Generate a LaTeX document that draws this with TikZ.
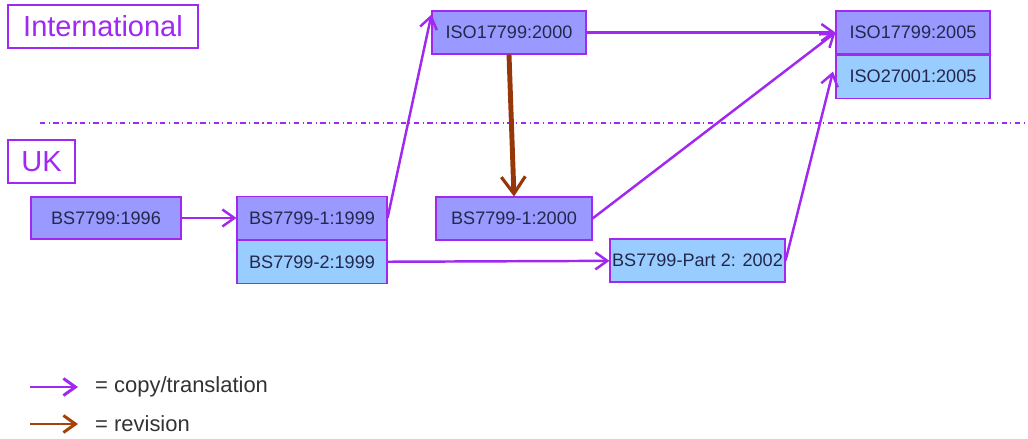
\documentclass[tikz,border=0pt]{standalone}
\usepackage{fontspec}
\setmainfont{Liberation Sans}
\usepackage{tikz}
\usetikzlibrary{arrows.meta,positioning,calc}
\definecolor{vio}{RGB}{160,40,240}
\definecolor{stddark}{RGB}{153,153,255}
\definecolor{stdlight}{RGB}{153,204,255}
\definecolor{rev}{RGB}{150,55,10}
\definecolor{ink}{RGB}{35,40,75}

\begin{document}
\begin{tikzpicture}[
    stdbox/.style={draw=vio, line width=0.6pt, fill=stddark, minimum width=3cm, minimum height=0.86cm, inner sep=0pt, font=\fontsize{10.3}{12}\selectfont, text=ink},
    regionbox/.style={draw=vio, line width=1pt, minimum height=0.86cm, inner sep=0pt, font=\fontsize{16.5}{19}\selectfont, text=vio},
    copyarrow/.style={-{Straight Barb[length=2.4mm,width=3.4mm]}, vio, line width=1.4pt},
    revarrow/.style={-{Straight Barb[length=3.4mm,width=4.8mm,line width=1.8pt]}, rev, line width=2.8pt},
    legendtext/.style={anchor=west, font=\fontsize{12.5}{15}\selectfont, text=black!80}
]
    \useasboundingbox (0,0) rectangle (20.56,-8.78);

    % regions
    \node[regionbox, minimum width=3.8cm] (intl) at (2.06,-0.53) {International};
    \node[regionbox, minimum width=1.34cm] (uk) at (0.83,-3.23) {UK};
    \draw[vio, line width=0.6pt, dash dot] (0.8,-2.46) -- (20.56,-2.46);

    % international standards
    \node[stdbox, minimum width=3.08cm] (iso2000) at (10.18,-0.65) {ISO17799:2000};
    \node[stdbox, minimum width=3.08cm] (iso2005) at (18.26,-0.65) {ISO17799:2005};
    \node[stdbox, minimum width=3.08cm, fill=stdlight, below=0pt of iso2005] (iso27001) {ISO27001:2005};

    % UK standards
    \node[stdbox, minimum height=0.84cm] (bs1996) at (2.12,-4.36) {BS7799:1996};
    \node[stdbox] (bs1999a) at (6.24,-4.36) {BS7799-1:1999};
    \node[stdbox, fill=stdlight, below=0pt of bs1999a] (bs1999b) {BS7799-2:1999};
    \node[stdbox, minimum width=3.12cm] (bs2000a) at (10.28,-4.37) {BS7799-1:2000};
    \node[stdbox, minimum width=3.5cm, fill=stdlight] (bs2002) at (13.95,-5.21) {BS7799-Part 2: 2002};

    % copies and translations
    \draw[copyarrow] (bs1996) -- (bs1999a);
    \draw[copyarrow] (bs1999a.east) -- ($(iso2000.north west)+(0,-0.08)$);
    \draw[copyarrow] (iso2000) -- (iso2005);
    \draw[copyarrow] (bs2000a.east) -- (iso2005.west);
    \draw[copyarrow] (bs1999b) -- (bs2002);
    \draw[copyarrow] (bs2002.east) -- ($(iso27001.west)+(-0.05,0.1)$);

    % revision
    \draw[revarrow] (iso2000.south) -- (bs2000a.north);

    % legend
    \coordinate (copyA) at (0.6,-7.74);
    \coordinate (copyB) at (1.56,-7.74);
    \coordinate (revA) at (0.6,-8.48);
    \coordinate (revB) at (1.56,-8.48);
    \draw[copyarrow, line width=1.7pt] (copyA) -- (copyB);
    \draw[-{Straight Barb[length=2.4mm,width=3.4mm]}, rev!85!orange, line width=1.7pt] (revA) -- (revB);
    \node[legendtext] (copytext) at (1.78,-7.74) {= copy/translation};
    \node[legendtext] (revtext) at (1.78,-8.48) {= revision};
\end{tikzpicture}
\end{document}
